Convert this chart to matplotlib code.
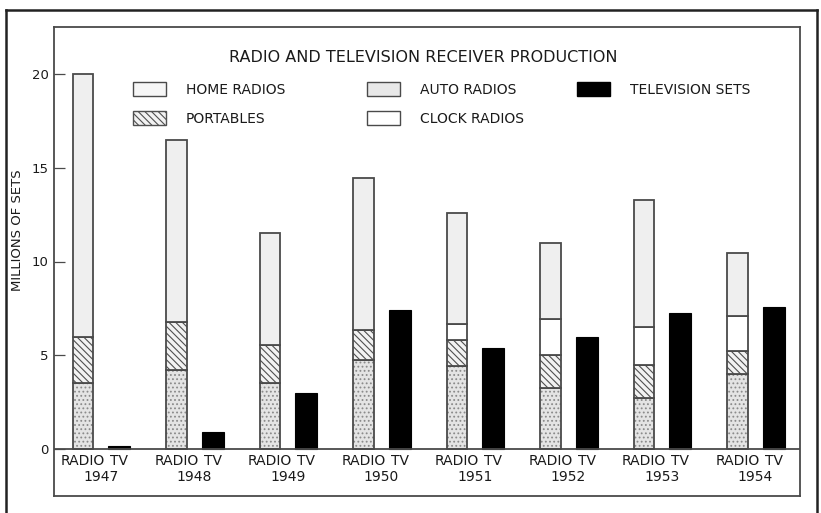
import matplotlib.pyplot as plt
from matplotlib.patches import Patch
from matplotlib.lines import Line2D
from matplotlib.legend import Legend
import numpy as np

#### -------- data -------- ####
years = ["1947", "1948", "1949", "1950", "1951", "1952", "1953", "1954"]
auto_radios = [3.5, 4.2, 3.55, 4.75, 4.45, 3.25, 2.75, 4.0]
portables = [2.5, 2.6, 2.0, 1.6, 1.35, 1.75, 1.75, 1.25]
clock_radios = [0, 0, 0, 0, 0.85, 1.95, 2.0, 1.85]
home_radios = [14.0, 9.7, 5.95, 8.1, 5.95, 4.05, 6.8, 3.35]
tv_sets = [0.18, 0.9, 3.0, 7.4, 5.4, 5.95, 7.25, 7.6]
yticks = [0, 5, 10, 15, 20]

#### -------- style -------- ####
plt.rcParams["font.family"] = "DejaVu Sans"
plt.rcParams["font.size"] = 9
plt.rcParams["hatch.linewidth"] = 0.8
ink = "#1a1a1a"
edge = "#4a4a4a"

fig = plt.figure(figsize=(8.21, 5.13), dpi=100)
ax = fig.add_axes([54 / 821, 17 / 513, 746 / 821, 469 / 513])

x = np.arange(len(years))
xr = x - 0.193
xt = x + 0.193
w = 0.215

# stacked radio bars: fill layer (with hatch) then outline layer
segments = [
    (auto_radios, "#e4e4e4", "....", "#8a8a8a"),
    (portables, "#f2f2f2", "\\\\\\\\\\", "#505050"),
    (clock_radios, "white", None, edge),
    (home_radios, "#efefef", None, edge),
]
bottom = np.zeros(len(years))
for vals, fc, hatch, hc in segments:
    vals = np.array(vals)
    ax.bar(xr, vals, w, bottom=bottom, color=fc, hatch=hatch, edgecolor=hc, lw=0)
    ax.bar(xr, vals, w, bottom=bottom, facecolor="none", edgecolor=edge, lw=1.3)
    bottom = bottom + vals

ax.bar(xt, tv_sets, 0.235, color="black", edgecolor="black", lw=0.8)

#### -------- axes -------- ####
ax.set_xlim(-0.503, 7.476)
ax.set_ylim(-2.5, 22.5)
ax.axhline(0, color=edge, lw=1.3)
ax.set_xticks([])
ax.set_yticks(yticks)
ax.set_yticklabels([str(t) for t in yticks], color=ink, fontsize=9.5)
ax.tick_params(axis="y", direction="in", length=8, width=0.9, color=edge, pad=4)
for s in ax.spines.values():
    s.set_color(edge)
    s.set_linewidth(1.3)
ax.set_ylabel("MILLIONS OF SETS", fontsize=9.5, color=ink, labelpad=10)
ax.yaxis.set_label_coords(-0.04, 0.566)

for i in range(len(years)):
    ax.text(xr[i], -0.65, "RADIO", ha="center", va="center", fontsize=10, color=ink)
    ax.text(xt[i], -0.65, "TV", ha="center", va="center", fontsize=10, color=ink)
    ax.text(x[i], -1.5, years[i], ha="center", va="center", fontsize=10, color=ink)

#### -------- title / legend -------- ####
ax.text(0.495, 0.936, "RADIO AND TELEVISION RECEIVER PRODUCTION", transform=ax.transAxes,
        ha="center", va="center", fontsize=11.5, color=ink)

h_home = Patch(facecolor="#f6f6f6", edgecolor=edge, lw=1.0)
h_port = Patch(facecolor="#f2f2f2", edgecolor="#505050", hatch="\\\\\\\\\\", lw=1.0)
h_auto = Patch(facecolor="#e8e8e8", edgecolor=edge, lw=1.0)
h_clock = Patch(facecolor="white", edgecolor=edge, lw=1.0)
h_tv = Patch(facecolor="black", edgecolor="black")

# one legend per column so each column sits where it does in the original
columns = [
    ([h_home, h_port], ["HOME RADIOS", "PORTABLES"], 133),
    ([h_auto, h_clock], ["AUTO RADIOS", "CLOCK RADIOS"], 367),
    ([h_tv], ["TELEVISION SETS"], 577),
]
for handles, labels, px in columns:
    leg = Legend(ax, handles, labels, loc="upper left",
                 bbox_to_anchor=((px - 54) / 746, 1 - 55 / 469),
                 bbox_transform=ax.transAxes,
                 frameon=False, borderpad=0, borderaxespad=0,
                 handlelength=2.4, handleheight=1.15, handletextpad=1.4,
                 labelspacing=1.05, fontsize=10, labelcolor=ink)
    ax.add_artist(leg)

# outer page frame
for xs, ys in [((6, 6), (0, 503)), ((6, 817), (503, 503)), ((817, 817), (503, 0))]:
    fig.add_artist(Line2D([v / 821 for v in xs], [v / 513 for v in ys], color="#222222", lw=1.8))

fig.savefig("out.png", dpi=100)
